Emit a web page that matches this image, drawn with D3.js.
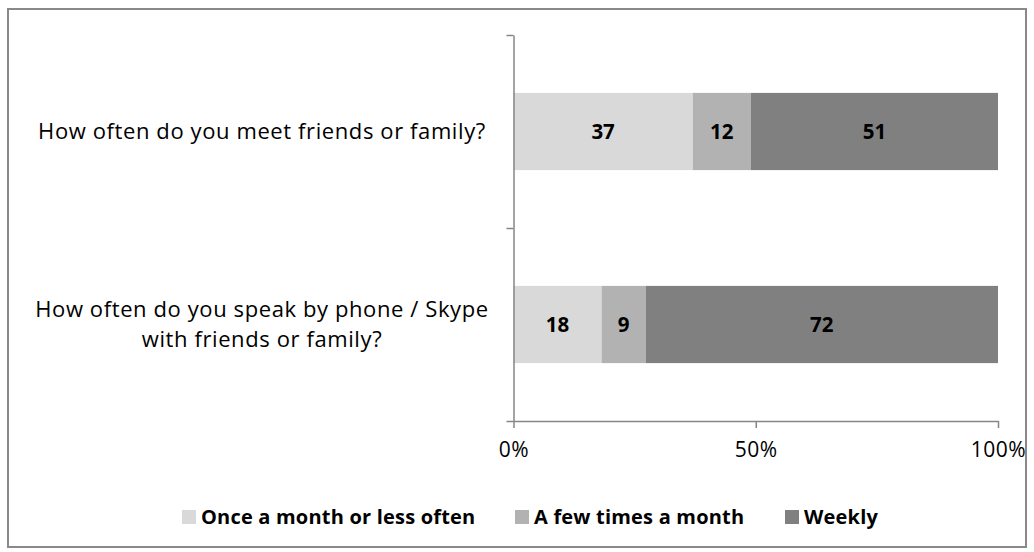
<!DOCTYPE html>
<html>
<head>
<meta charset="utf-8">
<script src="https://cdn.jsdelivr.net/npm/d3@7"></script>
<style>
  body { margin: 0; background: #fff; }
  svg { display: block; font-family: "Open Sans", Lato, sans-serif; }
</style>
</head>
<body>
<svg id="chart" width="1034" height="552"></svg>
<script>
/* eslint-env browser */
/* global d3: false */

const questions = [
  ['How often do you meet friends or family?'],
  ['How often do you speak by phone / Skype', 'with friends or family?'],
];
const seriesNames = ['Once a month or less often', 'A few times a month', 'Weekly'];
const seriesColors = ['#d9d9d9', '#b2b2b2', '#808080'];
const onceOrLess = [37, 18];
const fewPerMonth = [12, 9];
const weekly = [51, 72];
const tickValues = [0, 0.5, 1];

const svg = d3.select('#chart');
const axisColor = '#868686';

// outer frame
svg.append('rect')
  .attr('x', 8).attr('y', 9)
  .attr('width', 1018).attr('height', 538)
  .attr('fill', 'none')
  .attr('stroke', '#898989')
  .attr('stroke-width', 2);

const x = d3.scaleLinear().domain([0, 1]).range([513.5, 998]);
const y = d3.scaleBand()
  .domain(d3.range(questions.length))
  .range([35, 421])
  .paddingInner(0.6)
  .paddingOuter(0.3);

const rows = questions.map((q, i) => ({
  i,
  values: [onceOrLess[i], fewPerMonth[i], weekly[i]],
}));
// 100% stacked, like the original
const stack = d3.stack()
  .keys([0, 1, 2])
  .value((d, k) => d.values[k])
  .offset(d3.stackOffsetExpand);
const layers = stack(rows);

const g = svg.append('g');
layers.forEach((layer, k) => {
  const lg = g.append('g');
  lg.selectAll('rect')
    .data(layer)
    .join('rect')
    .attr('x', (d) => x(d[0]))
    .attr('y', (d) => y(d.data.i))
    .attr('width', (d) => x(d[1]) - x(d[0]))
    .attr('height', y.bandwidth())
    .attr('fill', seriesColors[k]);
  lg.selectAll('text')
    .data(layer)
    .join('text')
    .attr('x', (d) => (x(d[0]) + x(d[1])) / 2)
    .attr('y', (d) => y(d.data.i) + y.bandwidth() / 2)
    .attr('dy', '0.36em')
    .attr('text-anchor', 'middle')
    .attr('font-weight', 'bold')
    .attr('font-size', 20.5)
    .text((d) => d.data.values[k]);
});

// x axis
const xAxis = svg.append('g')
  .attr('transform', `translate(0,${y.range()[1]})`)
  .call(d3.axisBottom(x).tickValues(tickValues).tickFormat(d3.format('.0%'))
    .tickSizeOuter(0).tickSizeInner(7).tickPadding(14));
xAxis.select('.domain').attr('stroke', axisColor).attr('stroke-width', 1.5);
xAxis.selectAll('.tick line').attr('stroke', axisColor).attr('stroke-width', 1.5);
xAxis.selectAll('.tick text')
  .attr('font-size', 21)
  .attr('letter-spacing', 0.5)
  .attr('font-family', '"Open Sans", sans-serif')
  .attr('fill', '#000');

// category axis with ticks on band boundaries
const edge = d3.scaleLinear().domain([0, questions.length]).range(y.range());
const yAxis = svg.append('g')
  .attr('transform', `translate(${x(0)},0)`)
  .call(d3.axisLeft(edge).ticks(questions.length).tickFormat('')
    .tickSizeOuter(0).tickSizeInner(7));
yAxis.select('.domain').attr('stroke', axisColor).attr('stroke-width', 1.5);
yAxis.selectAll('.tick line').attr('stroke', axisColor).attr('stroke-width', 1.5);

// category labels
const labels = svg.append('g')
  .selectAll('text')
  .data(questions)
  .join('text')
  .attr('text-anchor', 'middle')
  .attr('font-size', 22)
  .attr('letter-spacing', 0.6)
  .attr('fill', '#000');
labels.each(function (lines, i) {
  const cy = y(i) + y.bandwidth() / 2;
  const lh = 30;
  d3.select(this).selectAll('tspan')
    .data(lines)
    .join('tspan')
    .attr('x', 262)
    .attr('y', (d, j) => cy + (j - (lines.length - 1) / 2) * lh)
    .attr('dy', '0.36em')
    .text((d) => d);
});

// legend
const legendX = [182, 515, 785];
const legend = svg.append('g')
  .selectAll('g')
  .data(seriesNames)
  .join('g')
  .attr('transform', (d, k) => `translate(${legendX[k]},510)`);
legend.append('rect')
  .attr('width', 14).attr('height', 14)
  .attr('fill', (d, k) => seriesColors[k]);
legend.append('text')
  .attr('x', 19)
  .attr('y', 7)
  .attr('dy', '0.36em')
  .attr('font-size', 20)
  .attr('letter-spacing', 0.2)
  .attr('font-weight', 'bold')
  .text((d) => d);
</script>
</body>
</html>
